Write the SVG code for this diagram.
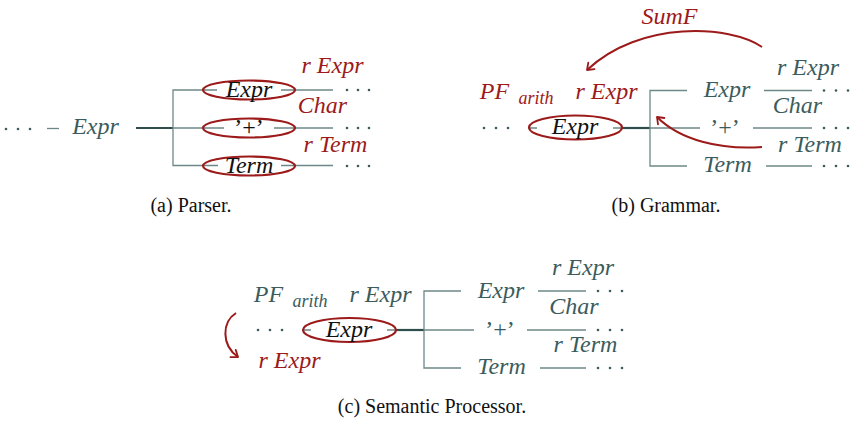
<svg xmlns="http://www.w3.org/2000/svg" width="857" height="423" viewBox="0 0 857 423">
<g id="a-connectors" fill="none">
<path stroke="#6d8888" stroke-width="1.3" d="M47,128.5 H59"/>
<path stroke="#2f4d4d" stroke-width="2.2" d="M136,128 H173"/>
<path stroke="#6d8888" stroke-width="1.3" d="M205,90 H173 V165.5 H205 M173,128 H205 M205,90 H217 M281,90 H333 M205,128 H224 M274,128 H333 M205,165.5 H218 M281,165.5 H333"/>
</g>
<g id="a-root" fill="#3b5c5c">
<circle cx="6" cy="129" r="1.3"/><circle cx="18" cy="129" r="1.3"/><circle cx="30" cy="129" r="1.3"/>
<text x="95.5" y="134" text-anchor="middle" font-family="Liberation Serif" font-style="italic" font-size="24">Expr</text>
</g>
<g id="a-expr">
<ellipse fill="none" stroke="#9c1a1a" stroke-width="2.2" cx="249" cy="90" rx="46" ry="9.5"/>
<text x="249" y="96.5" text-anchor="middle" font-family="Liberation Serif" font-style="italic" font-size="24" fill="#111">Expr</text>
<text x="332.5" y="73" text-anchor="middle" font-family="Liberation Serif" font-style="italic" font-size="24" fill="#9c1a1a">r Expr</text>
<circle cx="347" cy="90" r="1.3" fill="#3b5c5c"/><circle cx="358" cy="90" r="1.3" fill="#3b5c5c"/><circle cx="369" cy="90" r="1.3" fill="#3b5c5c"/>
</g>
<g id="a-plus">
<ellipse fill="none" stroke="#9c1a1a" stroke-width="2.2" cx="249" cy="128" rx="46" ry="9.5"/>
<text x="249" y="135" text-anchor="middle" font-family="Liberation Serif" font-size="24" fill="#111">&#8217;+&#8217;</text>
<text x="322.5" y="113" text-anchor="middle" font-family="Liberation Serif" font-style="italic" font-size="24" fill="#9c1a1a">Char</text>
<circle cx="347" cy="128" r="1.3" fill="#3b5c5c"/><circle cx="358" cy="128" r="1.3" fill="#3b5c5c"/><circle cx="369" cy="128" r="1.3" fill="#3b5c5c"/>
</g>
<g id="a-term">
<ellipse fill="none" stroke="#9c1a1a" stroke-width="2.2" cx="249" cy="166" rx="46" ry="9.5"/>
<text x="249" y="172.5" text-anchor="middle" font-family="Liberation Serif" font-style="italic" font-size="24" fill="#111">Term</text>
<text x="335.5" y="152" text-anchor="middle" font-family="Liberation Serif" font-style="italic" font-size="24" fill="#9c1a1a">r Term</text>
<circle cx="347" cy="166" r="1.3" fill="#3b5c5c"/><circle cx="358" cy="166" r="1.3" fill="#3b5c5c"/><circle cx="369" cy="166" r="1.3" fill="#3b5c5c"/>
</g>
<text id="cap-a" x="191" y="212" text-anchor="middle" font-family="Liberation Serif" font-size="20" fill="#111">(a) Parser.</text>

<g id="b-connectors" fill="none">
<path stroke="#6d8888" stroke-width="1.3" d="M528,128 H537 M613,128 H622"/>
<path stroke="#2f4d4d" stroke-width="2.2" d="M621,128 H650"/>
<path stroke="#6d8888" stroke-width="1.3" d="M687,90.5 H650 V166 H687 M650,128 H700 M764,90.5 H812 M753,128 H812 M766,166 H812"/>
<path stroke="#9c1a1a" stroke-width="2" d="M762,47 C730,25 640,20 587,70"/>
<path stroke="#9c1a1a" stroke-width="1.8" stroke-linecap="round" stroke-linejoin="round" d="M594.5,69.2 L587,70 L588.3,62.6"/>
<path stroke="#9c1a1a" stroke-width="2" d="M762,147 C720,150 680,140 657,117"/>
<path stroke="#9c1a1a" stroke-width="1.8" stroke-linecap="round" stroke-linejoin="round" d="M664.4,118 L657,117 L658,124.4"/>
</g>
<g id="b-root">
<circle cx="484" cy="128" r="1.3" fill="#3b5c5c"/><circle cx="496" cy="128" r="1.3" fill="#3b5c5c"/><circle cx="508" cy="128" r="1.3" fill="#3b5c5c"/>
<ellipse fill="none" stroke="#9c1a1a" stroke-width="2.2" cx="575.5" cy="127.5" rx="46.5" ry="12"/>
<text x="575" y="134" text-anchor="middle" font-family="Liberation Serif" font-style="italic" font-size="24" fill="#111">Expr</text>
<text x="494.5" y="99" text-anchor="middle" font-family="Liberation Serif" font-style="italic" font-size="24" fill="#9c1a1a">PF</text>
<text x="536" y="104" text-anchor="middle" font-family="Liberation Serif" font-style="italic" font-size="18" fill="#9c1a1a">arith</text>
<text x="606.5" y="99" text-anchor="middle" font-family="Liberation Serif" font-style="italic" font-size="24" fill="#9c1a1a">r Expr</text>
</g>
<g id="b-expr" fill="#3b5c5c">
<text x="727" y="97" text-anchor="middle" font-family="Liberation Serif" font-style="italic" font-size="24">Expr</text>
<text x="808" y="75" text-anchor="middle" font-family="Liberation Serif" font-style="italic" font-size="24">r Expr</text>
<circle cx="824" cy="90.5" r="1.3"/><circle cx="836" cy="90.5" r="1.3"/><circle cx="848" cy="90.5" r="1.3"/>
</g>
<g id="b-plus" fill="#3b5c5c">
<text x="725" y="135" text-anchor="middle" font-family="Liberation Serif" font-size="24">&#8217;+&#8217;</text>
<text x="797.5" y="113" text-anchor="middle" font-family="Liberation Serif" font-style="italic" font-size="24">Char</text>
<circle cx="824" cy="128" r="1.3"/><circle cx="836" cy="128" r="1.3"/><circle cx="848" cy="128" r="1.3"/>
</g>
<g id="b-term" fill="#3b5c5c">
<text x="727.5" y="172" text-anchor="middle" font-family="Liberation Serif" font-style="italic" font-size="24">Term</text>
<text x="810" y="152" text-anchor="middle" font-family="Liberation Serif" font-style="italic" font-size="24">r Term</text>
<circle cx="824" cy="166" r="1.3"/><circle cx="836" cy="166" r="1.3"/><circle cx="848" cy="166" r="1.3"/>
</g>
<text id="b-sumf" x="669.5" y="24" text-anchor="middle" font-family="Liberation Serif" font-style="italic" font-size="24" fill="#9c1a1a">SumF</text>
<text id="cap-b" x="666" y="212" text-anchor="middle" font-family="Liberation Serif" font-size="20" fill="#111">(b) Grammar.</text>

<g id="c-connectors" fill="none">
<path stroke="#6d8888" stroke-width="1.3" d="M302,330 H311 M387,330 H396"/>
<path stroke="#2f4d4d" stroke-width="2.2" d="M395,330 H424"/>
<path stroke="#6d8888" stroke-width="1.3" d="M461,291 H424 V368 H461 M424,330 H474 M538,291 H586 M527,330 H586 M540,368 H586"/>
<path stroke="#9c1a1a" stroke-width="2" d="M236,313 C222,322 221,345 238,357"/>
<path stroke="#9c1a1a" stroke-width="1.8" stroke-linecap="round" stroke-linejoin="round" d="M230.5,357.2 L238,357 L235.7,349.9"/>
</g>
<g id="c-root">
<circle cx="258" cy="330" r="1.3" fill="#3b5c5c"/><circle cx="270" cy="330" r="1.3" fill="#3b5c5c"/><circle cx="282" cy="330" r="1.3" fill="#3b5c5c"/>
<ellipse fill="none" stroke="#9c1a1a" stroke-width="2.2" cx="349.5" cy="330" rx="46.5" ry="12"/>
<text x="349" y="336.5" text-anchor="middle" font-family="Liberation Serif" font-style="italic" font-size="24" fill="#111">Expr</text>
<text x="268.5" y="302" text-anchor="middle" font-family="Liberation Serif" font-style="italic" font-size="24" fill="#3b5c5c">PF</text>
<text x="310" y="307" text-anchor="middle" font-family="Liberation Serif" font-style="italic" font-size="18" fill="#3b5c5c">arith</text>
<text x="380.5" y="302" text-anchor="middle" font-family="Liberation Serif" font-style="italic" font-size="24" fill="#3b5c5c">r Expr</text>
<text x="289.5" y="368" text-anchor="middle" font-family="Liberation Serif" font-style="italic" font-size="24" fill="#9c1a1a">r Expr</text>
</g>
<g id="c-expr" fill="#3b5c5c">
<text x="501" y="297.5" text-anchor="middle" font-family="Liberation Serif" font-style="italic" font-size="24">Expr</text>
<text x="583" y="275" text-anchor="middle" font-family="Liberation Serif" font-style="italic" font-size="24">r Expr</text>
<circle cx="598" cy="291" r="1.3"/><circle cx="610" cy="291" r="1.3"/><circle cx="622" cy="291" r="1.3"/>
</g>
<g id="c-plus" fill="#3b5c5c">
<text x="500" y="337" text-anchor="middle" font-family="Liberation Serif" font-size="24">&#8217;+&#8217;</text>
<text x="574" y="314" text-anchor="middle" font-family="Liberation Serif" font-style="italic" font-size="24">Char</text>
<circle cx="598" cy="330" r="1.3"/><circle cx="610" cy="330" r="1.3"/><circle cx="622" cy="330" r="1.3"/>
</g>
<g id="c-term" fill="#3b5c5c">
<text x="501.5" y="374" text-anchor="middle" font-family="Liberation Serif" font-style="italic" font-size="24">Term</text>
<text x="585.5" y="352" text-anchor="middle" font-family="Liberation Serif" font-style="italic" font-size="24">r Term</text>
<circle cx="598" cy="368" r="1.3"/><circle cx="610" cy="368" r="1.3"/><circle cx="622" cy="368" r="1.3"/>
</g>
<text id="cap-c" x="432" y="413" text-anchor="middle" font-family="Liberation Serif" font-size="20" fill="#111">(c) Semantic Processor.</text>
</svg>
